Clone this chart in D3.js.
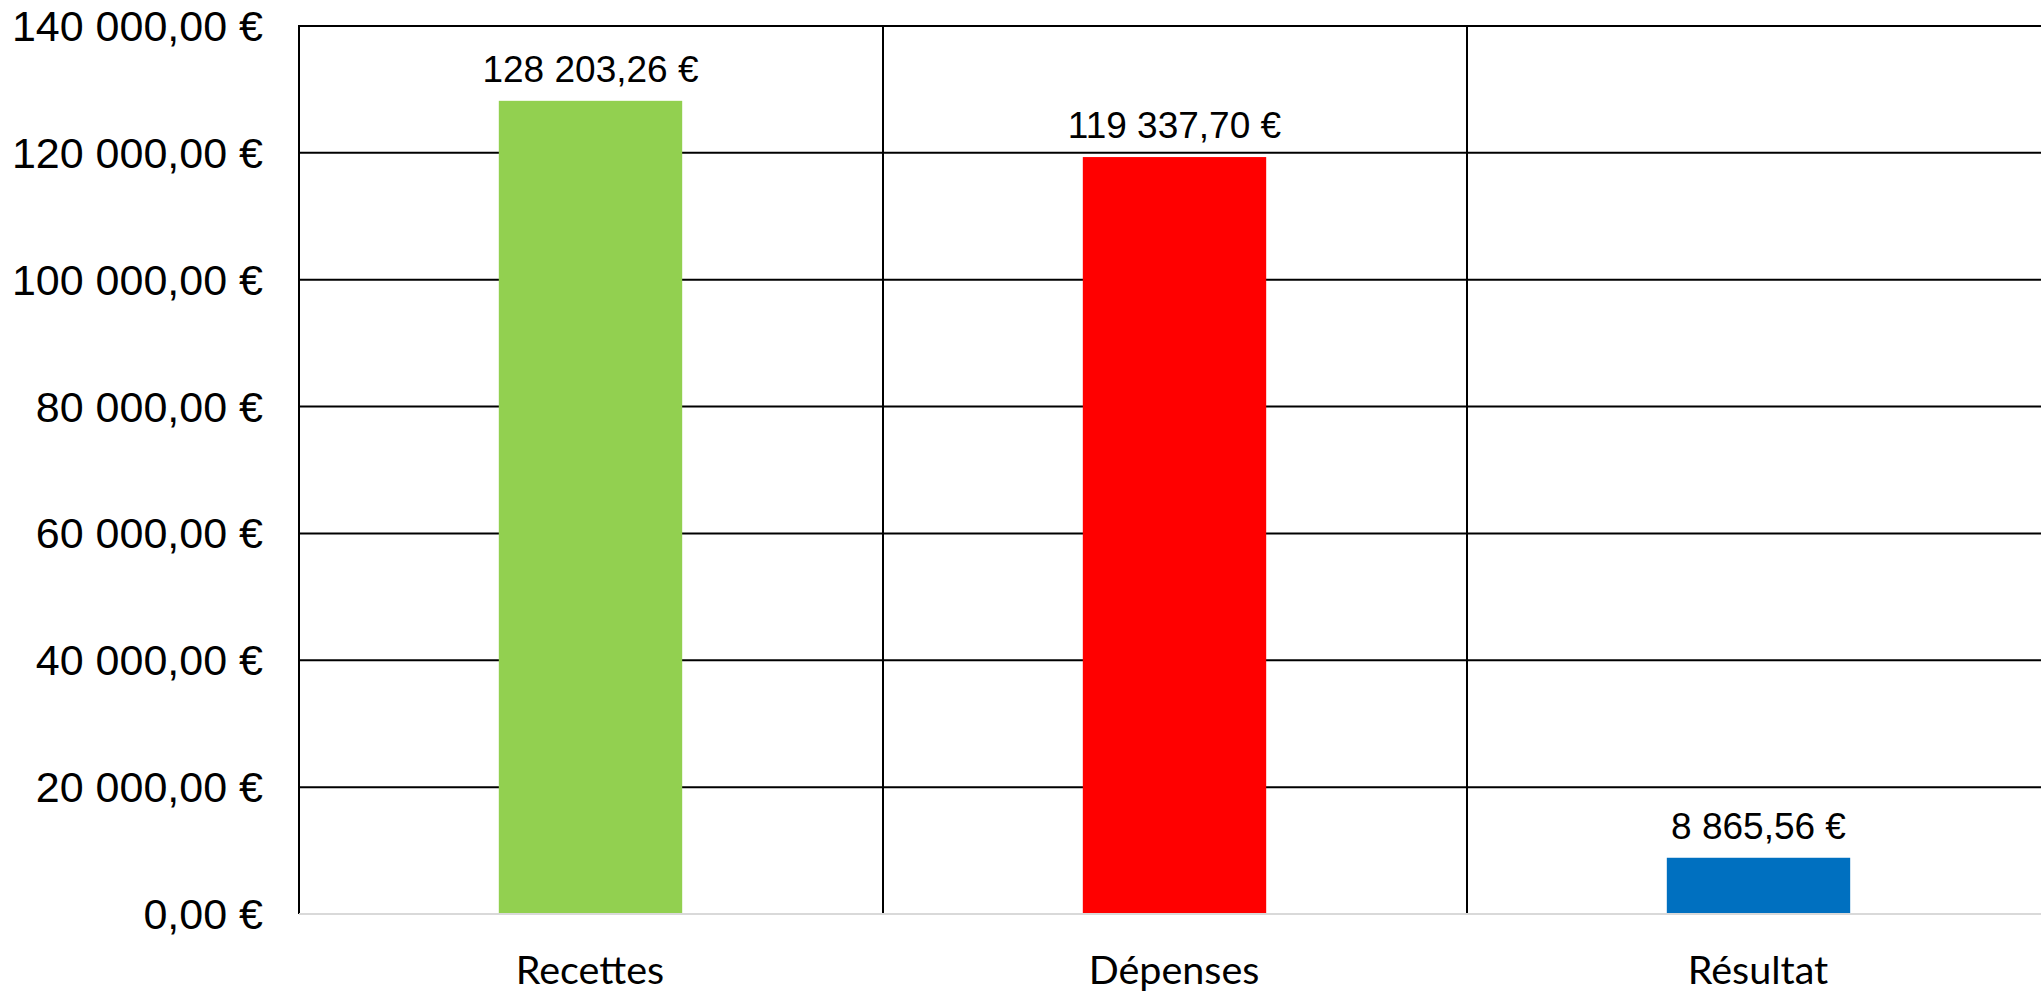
<!DOCTYPE html>
<html>
<head>
<meta charset="utf-8">
<script src="https://cdn.jsdelivr.net/npm/d3@7"></script>
<style>
html,body{margin:0;padding:0;background:#fff;}
svg{display:block;}
</style>
</head>
<body>
<svg id="chart" width="2041" height="993"></svg>
<script>
const categories = ["Recettes", "Dépenses", "Résultat"];
const values = [128203.26, 119337.70, 8865.56];
const barColors = ["#92d050", "#ff0000", "#0070c0"];
const tickValues = [0, 20000, 40000, 60000, 80000, 100000, 120000, 140000];
const yMax = 140000;

const W = 2041, H = 993;
const m = {left: 299, top: 26, bottom: 914};
const bandStep = 584;
const plotRight = m.left + bandStep * categories.length;

const svg = d3.select("#chart");

const x = d3.scaleBand().domain(categories).range([m.left, plotRight]).padding(0);
const y = d3.scaleLinear().domain([0, yMax]).range([m.bottom, m.top]);

const fmt = v => {
  const s = v.toFixed(2).split(".");
  const int = s[0].replace(/\B(?=(\d{3})+(?!\d))/g, " ");
  return int + "," + s[1] + " €";
};

// horizontal gridlines (excluding 0)
svg.append("g").selectAll("line")
  .data(tickValues.filter(d => d > 0))
  .join("line")
  .attr("x1", m.left).attr("x2", W)
  .attr("y1", d => y(d)).attr("y2", d => y(d))
  .attr("stroke", "#000").attr("stroke-width", 2);

// vertical dividers between categories + left axis
const dividers = [m.left].concat(categories.slice(1).map(c => x(c)));
svg.append("g").selectAll("line")
  .data(dividers)
  .join("line")
  .attr("x1", d => d).attr("x2", d => d)
  .attr("y1", m.top - 1).attr("y2", m.bottom)
  .attr("stroke", "#000").attr("stroke-width", 2);

// bars
const barFrac = 0.314;
const bw = x.bandwidth() * barFrac;
svg.append("g").selectAll("rect")
  .data(values)
  .join("rect")
  .attr("x", (d, i) => x(categories[i]) + x.bandwidth() / 2 - bw / 2 - 0.5)
  .attr("width", bw)
  .attr("y", d => y(d))
  .attr("height", d => y(0) - y(d))
  .attr("fill", (d, i) => barColors[i]);

// baseline
svg.append("line")
  .attr("x1", m.left).attr("x2", W)
  .attr("y1", y(0)).attr("y2", y(0))
  .attr("stroke", "#d9d9d9").attr("stroke-width", 2);

// y tick labels
svg.append("g").selectAll("text")
  .data(tickValues)
  .join("text")
  .attr("x", 263)
  .attr("y", d => y(d))
  .attr("dy", "0.35em")
  .attr("text-anchor", "end")
  .attr("font-family", "'Liberation Sans', Arial, sans-serif")
  .attr("font-size", 43)
  .attr("fill", "#000")
  .text(d => fmt(d));

// value labels
svg.append("g").selectAll("text")
  .data(values)
  .join("text")
  .attr("x", (d, i) => x(categories[i]) + x.bandwidth() / 2 - 0.5)
  .attr("y", d => y(d) - 19)
  .attr("text-anchor", "middle")
  .attr("font-family", "'Liberation Sans', Arial, sans-serif")
  .attr("font-size", 37)
  .attr("fill", "#000")
  .text(d => fmt(d));

// category labels
svg.append("g").selectAll("text")
  .data(categories)
  .join("text")
  .attr("x", d => x(d) + x.bandwidth() / 2 - 1)
  .attr("y", 970)
  .attr("dy", "0.35em")
  .attr("text-anchor", "middle")
  .attr("font-family", "Lato, 'Open Sans', sans-serif")
  .attr("font-size", 39.5)
  .attr("fill", "#000")
  .text(d => d);
</script>
</body>
</html>
